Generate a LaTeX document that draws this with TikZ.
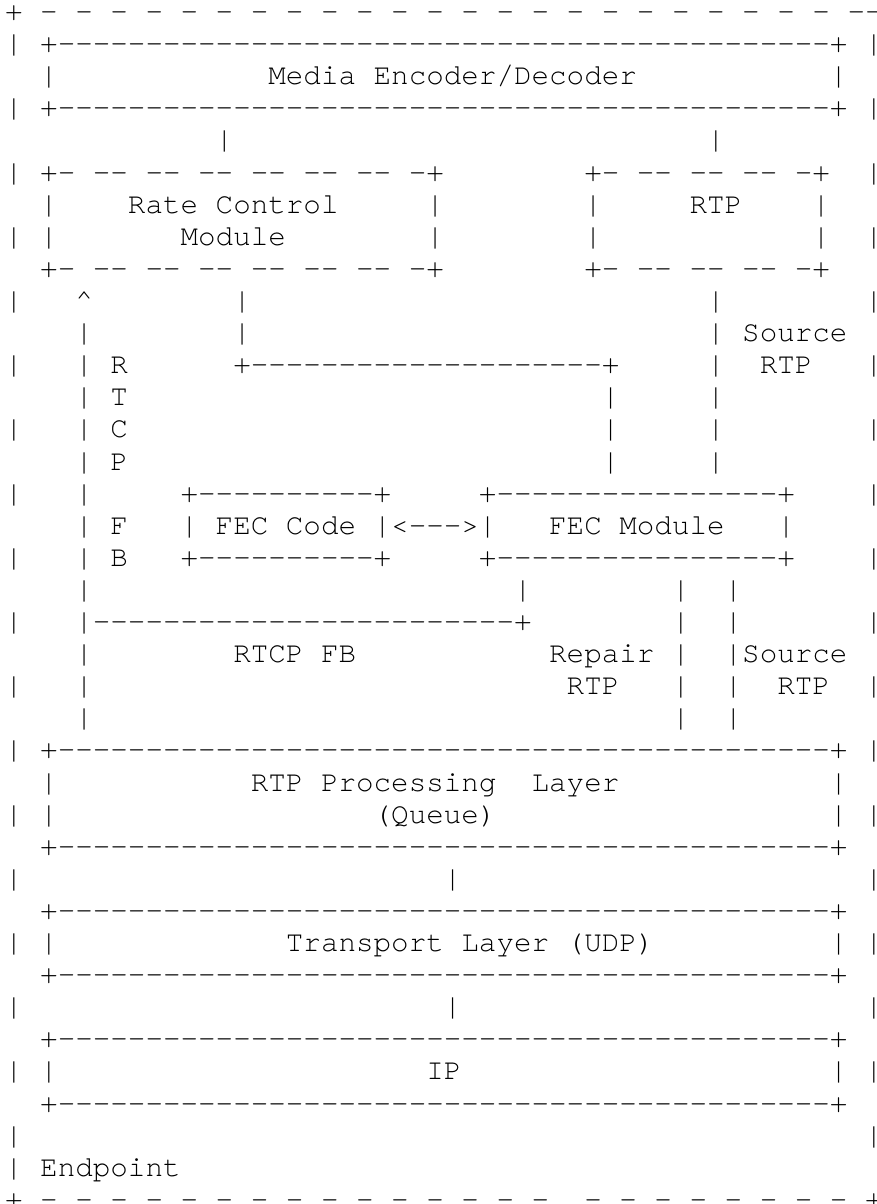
\documentclass[tikz,border=0pt]{standalone}
\usepackage{fontspec}
\setmonofont{texgyrecursor-regular.otf}
\ExplSyntaxOn
\cs_new:Npn \myrep #1 #2 { \prg_replicate:nn {#1} {#2} }
\ExplSyntaxOff
\newcommand\boxrule{+\myrep{44}{-}+}
\newcommand\dboxwide{+-\myrep{6}{ --} -+}
\newcommand\dboxnarrow{+-\myrep{3}{ --} -+}
\tikzset{
  asc/.style={font=\ttfamily\fontsize{29.25pt}{32.1pt}\selectfont,
    anchor=base west, inner sep=0pt, outer sep=0pt, text=black}
}
% row, column, text
\newcommand\tx[3]{\node[asc] (n#1c#2) at ({5.1+17.55*#2},{-(20.6+32.1*#1)}) {#3};}
\begin{document}
\begin{tikzpicture}[x=1pt,y=1pt]
\fill[white] (0,0) rectangle (877,-1204);
\useasboundingbox (0,0) rectangle (877,-1204);
% outer dashed frame top
\tx{0}{0}{+\myrep{23}{ -} --+}
% Media Encoder/Decoder
\tx{1}{0}{|}\tx{1}{2}{\boxrule}\tx{1}{49}{|}
\tx{2}{2}{|}\tx{2}{15}{Media Encoder/Decoder}\tx{2}{47}{|}
\tx{3}{0}{|}\tx{3}{2}{\boxrule}\tx{3}{49}{|}
\tx{4}{12}{|}\tx{4}{40}{|}
% Rate Control Module / RTP
\tx{5}{0}{|}\tx{5}{2}{\dboxwide}\tx{5}{33}{\dboxnarrow}\tx{5}{49}{|}
\tx{6}{2}{|}\tx{6}{7}{Rate Control}\tx{6}{24}{|}\tx{6}{33}{|}\tx{6}{39}{RTP}\tx{6}{46}{|}
\tx{7}{0}{|}\tx{7}{2}{|}\tx{7}{10}{Module}\tx{7}{24}{|}\tx{7}{33}{|}\tx{7}{46}{|}\tx{7}{49}{|}
\tx{8}{2}{\dboxwide}\tx{8}{33}{\dboxnarrow}
% connectors
\tx{9}{0}{|}\tx{9}{4}{\textasciicircum}\tx{9}{13}{|}\tx{9}{40}{|}\tx{9}{49}{|}
\tx{10}{4}{|}\tx{10}{13}{|}\tx{10}{40}{|}\tx{10}{42}{Source}
\tx{11}{0}{|}\tx{11}{4}{|}\tx{11}{6}{R}\tx{11}{13}{+\myrep{20}{-}+}\tx{11}{40}{|}\tx{11}{43}{RTP}\tx{11}{49}{|}
\tx{12}{4}{|}\tx{12}{6}{T}\tx{12}{34}{|}\tx{12}{40}{|}
\tx{13}{0}{|}\tx{13}{4}{|}\tx{13}{6}{C}\tx{13}{34}{|}\tx{13}{40}{|}\tx{13}{49}{|}
\tx{14}{4}{|}\tx{14}{6}{P}\tx{14}{34}{|}\tx{14}{40}{|}
% FEC Code / FEC Module
\tx{15}{0}{|}\tx{15}{4}{|}\tx{15}{10}{+\myrep{10}{-}+}\tx{15}{27}{+\myrep{16}{-}+}\tx{15}{49}{|}
\tx{16}{4}{|}\tx{16}{6}{F}\tx{16}{10}{|}\tx{16}{12}{FEC Code}\tx{16}{21}{|<--->|}\tx{16}{31}{FEC Module}\tx{16}{44}{|}
\tx{17}{0}{|}\tx{17}{4}{|}\tx{17}{6}{B}\tx{17}{10}{+\myrep{10}{-}+}\tx{17}{27}{+\myrep{16}{-}+}\tx{17}{49}{|}
\tx{18}{4}{|}\tx{18}{29}{|}\tx{18}{38}{|}\tx{18}{41}{|}
\tx{19}{0}{|}\tx{19}{4}{|\myrep{24}{-}+}\tx{19}{38}{|}\tx{19}{41}{|}\tx{19}{49}{|}
\tx{20}{4}{|}\tx{20}{13}{RTCP FB}\tx{20}{31}{Repair}\tx{20}{38}{|}\tx{20}{41}{|Source}
\tx{21}{0}{|}\tx{21}{4}{|}\tx{21}{32}{RTP}\tx{21}{38}{|}\tx{21}{41}{|}\tx{21}{44}{RTP}\tx{21}{49}{|}
\tx{22}{4}{|}\tx{22}{38}{|}\tx{22}{41}{|}
% RTP Processing Layer
\tx{23}{0}{|}\tx{23}{2}{\boxrule}\tx{23}{49}{|}
\tx{24}{2}{|}\tx{24}{14}{RTP Processing}\tx{24}{30}{Layer}\tx{24}{47}{|}
\tx{25}{0}{|}\tx{25}{2}{|}\tx{25}{21}{(Queue)}\tx{25}{47}{|}\tx{25}{49}{|}
\tx{26}{2}{\boxrule}
\tx{27}{0}{|}\tx{27}{25}{|}\tx{27}{49}{|}
% Transport Layer
\tx{28}{2}{\boxrule}
\tx{29}{0}{|}\tx{29}{2}{|}\tx{29}{16}{Transport Layer (UDP)}\tx{29}{47}{|}\tx{29}{49}{|}
\tx{30}{2}{\boxrule}
\tx{31}{0}{|}\tx{31}{25}{|}\tx{31}{49}{|}
% IP
\tx{32}{2}{\boxrule}
\tx{33}{0}{|}\tx{33}{2}{|}\tx{33}{24}{IP}\tx{33}{47}{|}\tx{33}{49}{|}
\tx{34}{2}{\boxrule}
\tx{35}{0}{|}\tx{35}{49}{|}
\tx{36}{0}{|}\tx{36}{2}{Endpoint}
% outer dashed frame bottom
\tx{37}{0}{+\myrep{15}{ -}}\tx{37}{33}{-\myrep{7}{ -} +}
\end{tikzpicture}
\end{document}
